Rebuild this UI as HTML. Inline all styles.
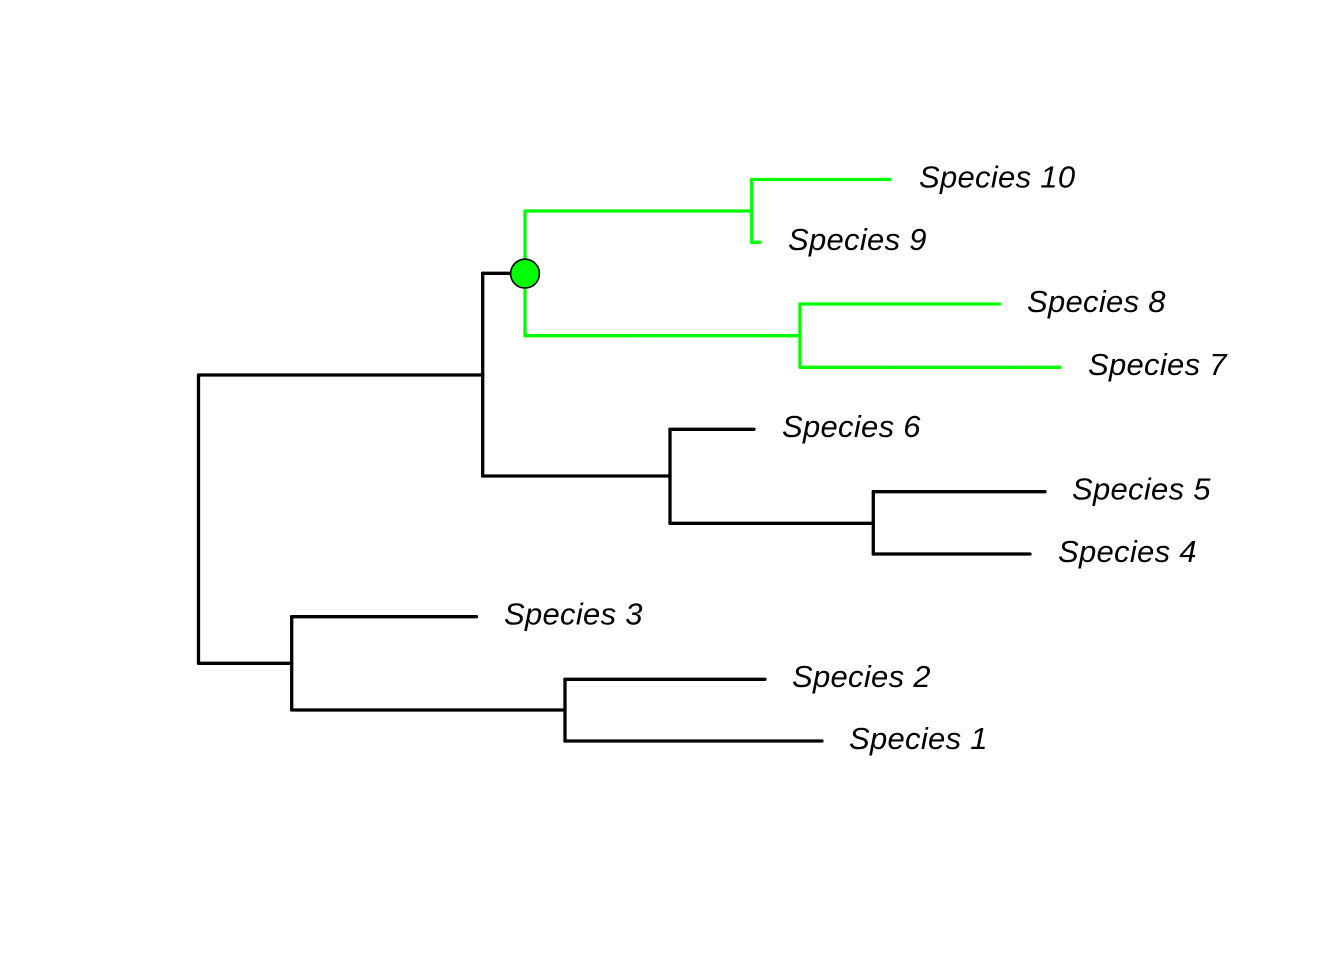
<!DOCTYPE html>
<html>
<head>
<meta charset="utf-8">
<style>
  html, body { margin: 0; padding: 0; background: #ffffff; }
  svg { display: block; }
  text { font-family: "Liberation Sans", Arial, sans-serif; font-style: italic; font-size: 31px; letter-spacing: 0.3px; fill: #000; }
</style>
</head>
<body>
<svg width="1344" height="960" viewBox="0 0 1344 960" xmlns="http://www.w3.org/2000/svg">
  <rect x="0" y="0" width="1344" height="960" fill="#ffffff"/>
  <g fill="none" stroke="#000000" stroke-width="3.3" stroke-linecap="round" stroke-linejoin="miter">
    <path d="M198.5 375 V663.3"/>
    <path d="M198.5 375 H482.7"/>
    <path d="M198.5 663.3 H291.7"/>
    <path d="M482.7 273.3 V476"/>
    <path d="M482.7 273.3 H512"/>
    <path d="M482.7 476 H670"/>
    <path d="M670 429.3 V523.3"/>
    <path d="M670 429.3 H754"/>
    <path d="M670 523.3 H873.3"/>
    <path d="M873.3 491.7 V554"/>
    <path d="M873.3 491.7 H1045"/>
    <path d="M873.3 554 H1030"/>
    <path d="M291.7 616.7 V710"/>
    <path d="M291.7 616.7 H476.5"/>
    <path d="M291.7 710 H565"/>
    <path d="M565 679.3 V741"/>
    <path d="M565 679.3 H765"/>
    <path d="M565 741 H822"/>
  </g>
  <g fill="none" stroke="#00FF00" stroke-width="3.3" stroke-linecap="round" stroke-linejoin="miter">
    <path d="M525 211 V335.7"/>
    <path d="M525 211 H751.7"/>
    <path d="M751.7 179.5 V242.3"/>
    <path d="M751.7 179.5 H890"/>
    <path d="M751.7 242.3 H760"/>
    <path d="M525 335.7 H800"/>
    <path d="M800 304 V367.3"/>
    <path d="M800 304 H999.5"/>
    <path d="M800 367.3 H1060"/>
  </g>
  <circle cx="525" cy="273.6" r="14.4" fill="#00FF00" stroke="#000000" stroke-width="1.6"/>
  <text x="919" y="187.5">Species 10</text>
  <text x="788" y="250">Species 9</text>
  <text x="1027" y="312">Species 8</text>
  <text x="1088" y="375">Species 7</text>
  <text x="782" y="437">Species 6</text>
  <text x="1072" y="499.5">Species 5</text>
  <text x="1058" y="562">Species 4</text>
  <text x="504" y="624.5">Species 3</text>
  <text x="792" y="687">Species 2</text>
  <text x="849" y="749">Species 1</text>
</svg>
</body>
</html>
